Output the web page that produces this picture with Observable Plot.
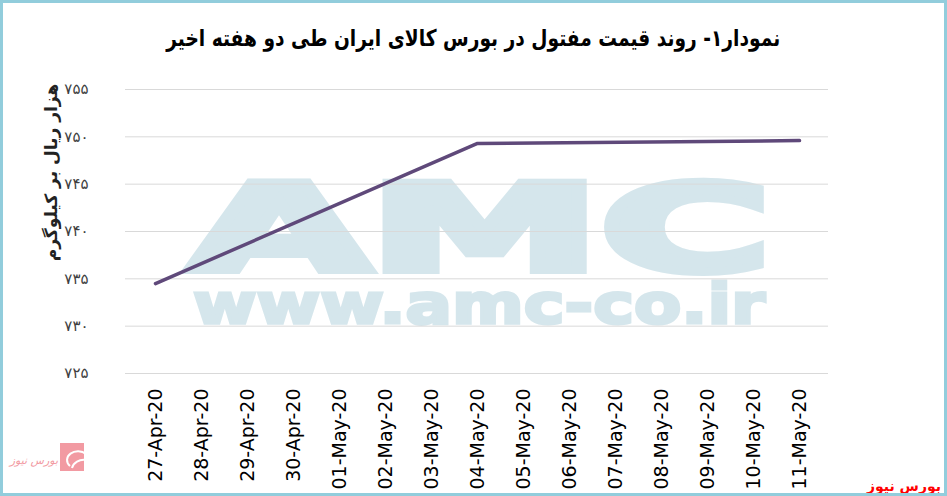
<!DOCTYPE html>
<html><head><meta charset="utf-8">
<script src="https://cdn.jsdelivr.net/npm/d3@7"></script>
<script src="https://cdn.jsdelivr.net/npm/@observablehq/plot@0.6"></script>
<style>
html,body{margin:0;padding:0;background:#fff;}
#wrap{position:relative;width:947px;height:496px;overflow:hidden;background:#fff;}
#chart{position:absolute;left:0;top:0;}
#title{position:absolute;left:0;width:947px;top:25px;text-align:center;font:bold 23px "DejaVu Sans";color:#000;direction:rtl;transform:scaleX(0.81);transform-origin:472px 0;}
#border{position:absolute;left:0;top:0;width:947px;height:496px;box-sizing:border-box;border:3px solid #92cddc;pointer-events:none;}
</style></head><body>
<div id="wrap"><div id="chart"></div><div id="title"></div><div id="border"></div></div>
<script>
const titleText = "نمودار۱- روند قیمت مفتول در بورس کالای ایران طی دو هفته اخیر";
const yLabel = "هزار ریال بر کیلوگرم";
const dates = ["27-Apr-20","28-Apr-20","29-Apr-20","30-Apr-20","01-May-20","02-May-20","03-May-20","04-May-20","05-May-20","06-May-20","07-May-20","08-May-20","09-May-20","10-May-20","11-May-20"];
const prices = [734.5,null,null,null,null,null,null,749.3,null,null,null,null,null,null,749.6];
const yTicks = [725,730,735,740,745,750,755];
const sourceText = "بورس نیوز";
const wmBig = "AMC";
const wmSmall = "www.amc-co.ir";

const toFa = n => String(n).replace(/\d/g, d => "۰۱۲۳۴۵۶۷۸۹"[d]);
const data = dates.map((d,i)=>({date:d, price:prices[i]})).filter(d=>d.price!=null);

document.getElementById("title").textContent = titleText;

const chart = Plot.plot({
  width:947, height:496,
  marginLeft:125, marginRight:119, marginTop:89, marginBottom:123,
  style:{background:"transparent", fontFamily:"DejaVu Sans", color:"#000"},
  x:{type:"point", domain:dates, padding:0.5},
  y:{domain:[725,755]},
  marks:[
    Plot.gridY(yTicks,{stroke:"#d9d9d9", strokeOpacity:1, strokeWidth:1}),
    Plot.axisY(yTicks,{tickSize:0, tickPadding:37, tickFormat:toFa, fontSize:15, fill:"#404040", label:null}),
    Plot.axisX({tickRotate:-90, tickSize:0, tickPadding:15, fontSize:19, fill:"#000", label:null}),
    Plot.line(data,{x:"date", y:"price", stroke:"#5f497a", strokeWidth:3.5, strokeLinecap:"round", strokeLinejoin:"round"}),
    Plot.text([yLabel],{frameAnchor:"top-left", dx:-74, dy:83, rotate:-90, textAnchor:"middle", lineAnchor:"middle", fontSize:17, fontWeight:"bold", fill:"#222"})
  ]
});
document.getElementById("chart").appendChild(chart);

const svg = d3.select(chart);
const wm = svg.insert("g", ":first-child").attr("fill","#d5e6ec").attr("stroke","#d5e6ec").attr("stroke-linejoin","miter").attr("font-family","DejaVu Sans").attr("font-weight","bold").attr("text-anchor","start");
wm.append("text").attr("x",189).attr("y",270).attr("textLength",582).attr("lengthAdjust","spacingAndGlyphs").attr("font-size",120).attr("stroke-width",8).text(wmBig);
wm.append("text").attr("x",193).attr("y",323).attr("textLength",572).attr("lengthAdjust","spacingAndGlyphs").attr("font-size",55).attr("stroke-width",3).text(wmSmall);

svg.append("text").attr("x",941).attr("y",491).attr("text-anchor","end").attr("font-family","DejaVu Sans").attr("font-weight","bold").attr("font-size",14).attr("fill","#ff0000").text(sourceText);

const logo = svg.append("g");
logo.append("rect").attr("x",60).attr("y",443).attr("width",24).attr("height",28).attr("fill","#f29aa2");
logo.append("path").attr("d","M70,466 a10,8 0 0 1 16,-12 M72,468 a12,10 0 0 1 14,-8").attr("fill","none").attr("stroke","#fff").attr("stroke-width",2);
logo.append("text").attr("x",58).attr("y",464).attr("text-anchor","end").attr("font-family","DejaVu Sans").attr("font-style","italic").attr("font-size",11).attr("fill","#f29aa2").text(sourceText);
</script>
</body></html>
